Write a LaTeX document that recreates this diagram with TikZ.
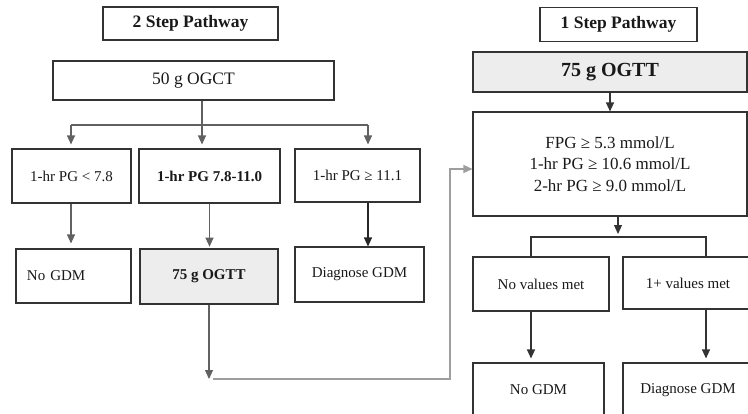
\documentclass[tikz,border=0pt]{standalone}
\usepackage{fontspec}
\setmainfont{Liberation Serif}
\usetikzlibrary{arrows.meta}
\tikzset{
  box/.style={draw=black!80, line width=1.1pt, minimum height=54pt, inner sep=0pt,
    text=black!90, font=\fontsize{15}{18}\selectfont},
  titlebox/.style={box, font=\bfseries\fontsize{17.5}{21}\selectfont},
  testbox/.style={box, line width=2.6pt, fill=black!7, font=\bfseries\fontsize{15}{18}\selectfont},
  link/.style={draw=black!62, line width=1.1pt},
  far/.style={draw=black!38, line width=1.3pt},
}
\begin{document}
\begin{tikzpicture}[x=1pt, y=-1pt, >={Triangle[width=8pt,length=9pt]}]
\clip (0,0) rectangle (748,413);
% 2 step pathway
\node[titlebox, minimum width=175pt, minimum height=33pt] (title2) at (190.5,23.5) {2 Step Pathway};
\node[box, minimum width=281pt, minimum height=39pt, font=\fontsize{17.5}{21}\selectfont] (ogct) at (193.5,80.5) {50 g OGCT};
\node[box, minimum width=119pt] (lo) at (71.5,176) {1-hr PG < 7.8};
\node[box, minimum width=141pt, font=\bfseries\fontsize{15}{18}\selectfont] (mid) at (209.5,176) {1-hr PG 7.8-11.0};
\node[box, minimum width=125pt, minimum height=53pt] (hi) at (357.5,175.5) {1-hr PG ≥ 11.1};
\node[box, minimum width=115pt, text width=93pt, align=left] (nogdm2) at (73.5,276) {No GDM};
\node[testbox, minimum width=138pt, minimum height=55pt] (ogtt2) at (209,276.5) {75 g OGTT};
\node[box, minimum width=129pt, minimum height=55pt] (diag2) at (359.5,274.5) {Diagnose GDM};

\coordinate (b1) at (71,125);
\coordinate (b2) at (202,125);
\coordinate (b3) at (368,125);
\draw[link] (ogct.south -| b2) -- (b2);
\draw[link] (b1) -- (b3);
\foreach \b/\n in {b1/lo, b2/mid, b3/hi}
  \draw[link, ->, shorten >=4pt] (\b) -- (\b |- \n.north);
\draw[link, ->, shorten >=5pt] (lo.south -| b1) -- (nogdm2.north -| b1);
\draw[link, ->, shorten >=1pt] (mid.south) -- (mid.south |- ogtt2.north);
\draw[link, draw=black!85, ->] (hi.south -| b3) -- (diag2.north -| b3);

% 1 step pathway
\node[titlebox, minimum width=157pt, minimum height=34pt] (title1) at (618.5,24.5) {1 Step Pathway};
\node[testbox, minimum width=274pt, minimum height=40pt, font=\bfseries\fontsize{20}{24}\selectfont] (ogtt1) at (610,72) {75 g OGTT};
\node[box, minimum width=274pt, minimum height=104pt, align=center, font=\fontsize{17}{21.7}\selectfont] (fpg) at (610,164)
  {FPG ≥ 5.3 mmol/L\\1-hr PG ≥ 10.6 mmol/L\\2-hr PG ≥ 9.0 mmol/L};
\node[box, minimum width=136pt] (none) at (541,284) {No values met};
\node[box, minimum width=130pt, minimum height=52pt] (some) at (688,283) {1+ values met};
\node[box, minimum width=131pt] (nogdm1) at (538.5,390) {No GDM};
\node[box, minimum width=130pt] (diag1) at (688,390) {Diagnose GDM};

\coordinate (c1) at (531,237);
\coordinate (c2) at (618,237);
\coordinate (c3) at (706,237);
\draw[link, draw=black!80, ->] (ogtt1.south) -- (fpg.north);
\draw[link, draw=black!80, ->, shorten >=3pt] (fpg.south -| c2) -- (c2);
\draw[link, draw=black!80] (none.north -| c1) -- (c1) -- (c3) -- (some.north -| c3);
\draw[link, draw=black!80, ->, shorten >=4pt] (none.south -| c1) -- (nogdm1.north -| c1);
\draw[link, draw=black!80, ->, shorten >=4pt] (some.south -| c3) -- (diag1.north -| c3);

% from the 2 step OGTT over to the criteria
\coordinate (turn) at (209,379);
\coordinate (entry) at (450,169);
\draw[link, ->] (ogtt2.south) -- (turn);
\draw[far, ->] ([xshift=4pt]turn) -| (entry) -- (entry -| fpg.west);
\end{tikzpicture}
\end{document}
